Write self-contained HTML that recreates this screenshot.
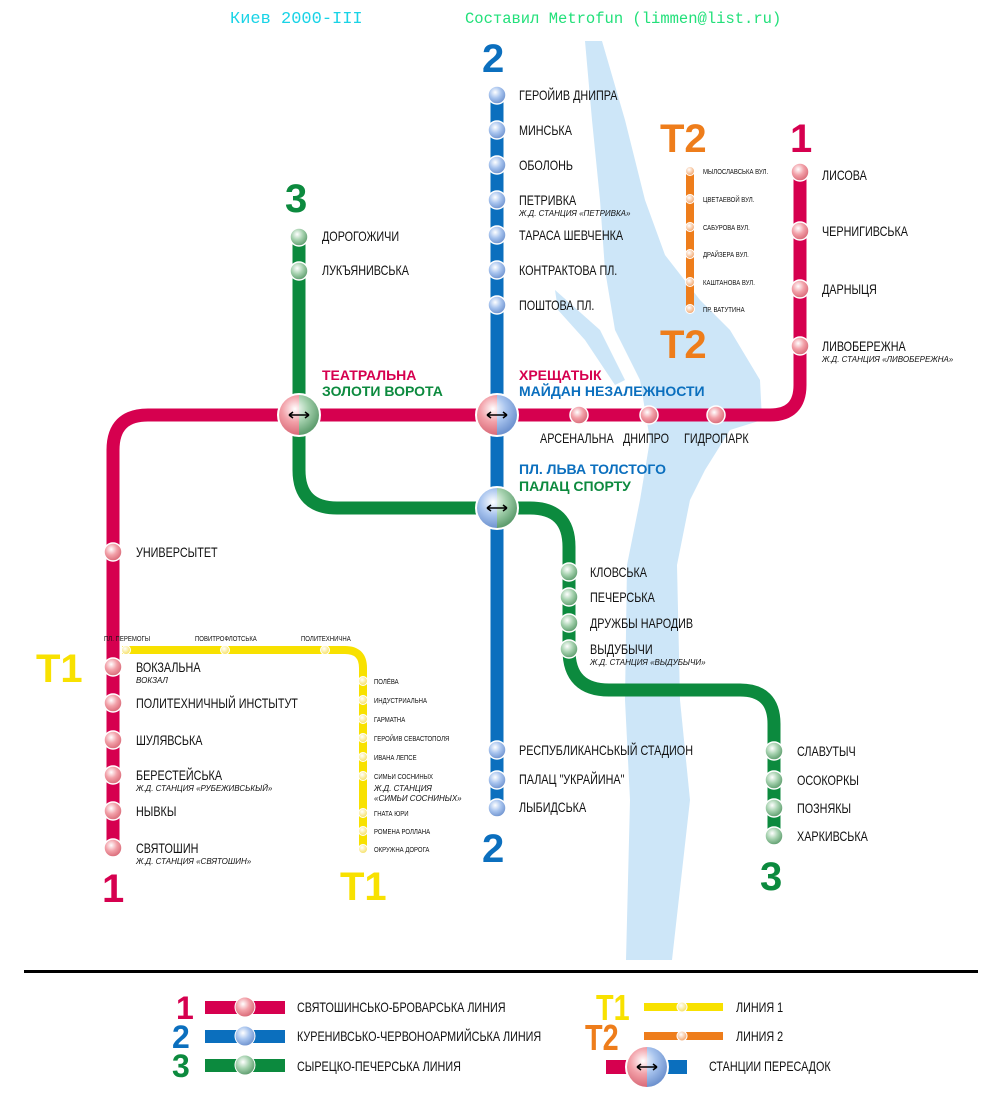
<!DOCTYPE html>
<html><head><meta charset="utf-8"><style>
html,body{margin:0;padding:0;background:#fff}
svg{display:block}
text{font-family:"Liberation Sans",sans-serif}
.st text,.sm text,.cz{transform-box:fill-box;transform-origin:0 0;transform:scaleX(0.8)}
.st{font-size:13.5px;fill:#111}
.sm{font-size:7.5px;fill:#111}
.it{font-size:8px;font-style:italic;fill:#111}
.big{font-weight:bold;font-size:40px}
.hd{font-weight:bold;font-size:14px}
</style></head><body>
<svg width="1000" height="1100" viewBox="0 0 1000 1100" xmlns="http://www.w3.org/2000/svg">
<defs>
<radialGradient id="gr" cx="40%" cy="35%" r="65%"><stop offset="0" stop-color="#fff"/><stop offset="0.5" stop-color="#f2a0a8"/><stop offset="1" stop-color="#d96a78"/></radialGradient>
<radialGradient id="gb" cx="40%" cy="35%" r="65%"><stop offset="0" stop-color="#fff"/><stop offset="0.5" stop-color="#a8c4ee"/><stop offset="1" stop-color="#6f93cf"/></radialGradient>
<radialGradient id="gg" cx="40%" cy="35%" r="65%"><stop offset="0" stop-color="#fff"/><stop offset="0.5" stop-color="#a5d1ae"/><stop offset="1" stop-color="#5e9d6e"/></radialGradient>
<radialGradient id="gy" cx="40%" cy="35%" r="65%"><stop offset="0" stop-color="#fff"/><stop offset="1" stop-color="#f6e060"/></radialGradient>
<radialGradient id="go" cx="40%" cy="35%" r="65%"><stop offset="0" stop-color="#fff"/><stop offset="1" stop-color="#f3a56a"/></radialGradient>
<clipPath id="cl"><rect x="-30" y="-30" width="30" height="60"/></clipPath>
<clipPath id="cr"><rect x="0" y="-30" width="30" height="60"/></clipPath>
<g id="ixrb"><circle r="22" fill="#fff"/><circle r="20" fill="url(#gr)" clip-path="url(#cl)"/><circle r="20" fill="url(#gb)" clip-path="url(#cr)"/><path d="M-10 0H10M-10 0l4-3M-10 0l4 3M10 0l-4-3M10 0l-4 3" stroke="#000" stroke-width="1.5" fill="none"/></g>
<g id="ixrg"><circle r="22" fill="#fff"/><circle r="20" fill="url(#gr)" clip-path="url(#cl)"/><circle r="20" fill="url(#gg)" clip-path="url(#cr)"/><path d="M-10 0H10M-10 0l4-3M-10 0l4 3M10 0l-4-3M10 0l-4 3" stroke="#000" stroke-width="1.5" fill="none"/></g>
<g id="ixbg"><circle r="22" fill="#fff"/><circle r="20" fill="url(#gb)" clip-path="url(#cl)"/><circle r="20" fill="url(#gg)" clip-path="url(#cr)"/><path d="M-10 0H10M-10 0l4-3M-10 0l4 3M10 0l-4-3M10 0l-4 3" stroke="#000" stroke-width="1.5" fill="none"/></g>
</defs>
<text x="230" y="23" font-size="17" fill="#19d3e6" style="font-family:'Liberation Mono',monospace">Киев 2000-III</text>
<text x="465" y="23" font-size="15.5" fill="#22e07a" style="font-family:'Liberation Mono',monospace">Составил Metrofun (limmen@list.ru)</text>
<path d="M585 41 L602 41 L625 120 L645 200 L665 255 L700 300 L730 330 L760 380 L762 420 L730 430 L705 470 L690 500 L677 565 L680 700 L690 800 L672 960 L626 960 L630 800 L625 700 L627 565 L640 500 L650 440 L640 380 L615 330 L605 270 L600 200 L592 120 Z" fill="#cde6f8"/>
<path d="M555 290 L600 330 L625 380 L615 385 L585 340 L558 310Z" fill="#cde6f8"/>
<g fill="none" stroke-width="13">
<path d="M113 850 V450 Q113 415 148 415 H770 Q800 415 800 385 V172" stroke="#d6004f"/>
<path d="M497 95 V808" stroke="#0b6fbe"/>
<path d="M299 237 V470 Q299 508 337 508 H530 Q569 508 569 547 V650 Q569 690 609 690 H740 Q774 690 774 724 V836" stroke="#0c8a3e"/>
</g>
<path d="M122 650 H345 Q363 650 363 668 V850" fill="none" stroke="#f8e100" stroke-width="8"/>
<path d="M690 170 V308" fill="none" stroke="#ee7d1b" stroke-width="8"/>
<g stroke="#fff" stroke-width="1.5">
<g fill="url(#gr)">
<circle cx="113" cy="552" r="9"/><circle cx="113" cy="667" r="9"/><circle cx="113" cy="703" r="9"/><circle cx="113" cy="740" r="9"/><circle cx="113" cy="775" r="9"/><circle cx="113" cy="811" r="9"/><circle cx="113" cy="848" r="9"/>
<circle cx="800" cy="172" r="9"/><circle cx="800" cy="231" r="9"/><circle cx="800" cy="289" r="9"/><circle cx="800" cy="346" r="9"/>
<circle cx="579" cy="415" r="9"/><circle cx="649" cy="415" r="9"/><circle cx="716" cy="415" r="9"/>
</g>
<g fill="url(#gb)">
<circle cx="497" cy="95" r="9"/><circle cx="497" cy="130" r="9"/><circle cx="497" cy="165" r="9"/><circle cx="497" cy="200" r="9"/><circle cx="497" cy="235" r="9"/><circle cx="497" cy="270" r="9"/><circle cx="497" cy="305" r="9"/>
<circle cx="497" cy="750" r="9"/><circle cx="497" cy="780" r="9"/><circle cx="497" cy="808" r="9"/>
</g>
<g fill="url(#gg)">
<circle cx="299" cy="237" r="9"/><circle cx="299" cy="271" r="9"/>
<circle cx="569" cy="572" r="9"/><circle cx="569" cy="597" r="9"/><circle cx="569" cy="623" r="9"/><circle cx="569" cy="649" r="9"/>
<circle cx="774" cy="751" r="9"/><circle cx="774" cy="780" r="9"/><circle cx="774" cy="808" r="9"/><circle cx="774" cy="836" r="9"/>
</g>
<g fill="url(#gy)" stroke-width="1">
<circle cx="126" cy="650" r="4.5"/><circle cx="225" cy="650" r="4.5"/><circle cx="325" cy="650" r="4.5"/>
<circle cx="363" cy="681" r="4.5"/><circle cx="363" cy="700" r="4.5"/><circle cx="363" cy="719" r="4.5"/><circle cx="363" cy="738" r="4.5"/><circle cx="363" cy="757" r="4.5"/><circle cx="363" cy="776" r="4.5"/><circle cx="363" cy="813" r="4.5"/><circle cx="363" cy="831" r="4.5"/><circle cx="363" cy="849" r="4.5"/>
</g>
<g fill="url(#go)" stroke-width="1">
<circle cx="690" cy="171" r="4.5"/><circle cx="690" cy="199" r="4.5"/><circle cx="690" cy="227" r="4.5"/><circle cx="690" cy="254" r="4.5"/><circle cx="690" cy="282" r="4.5"/><circle cx="690" cy="309" r="4.5"/>
</g>
</g>
<use href="#ixrg" x="299" y="415"/>
<use href="#ixrb" x="497" y="415"/>
<use href="#ixbg" x="497" y="508"/>
<text class="big" x="482" y="72" fill="#0b6fbe">2</text>
<text class="big" x="482" y="862" fill="#0b6fbe">2</text>
<text class="big" x="285" y="212" fill="#0c8a3e">3</text>
<text class="big" x="760" y="890" fill="#0c8a3e">3</text>
<text class="big" x="790" y="152" fill="#d6004f">1</text>
<text class="big" x="102" y="902" fill="#d6004f">1</text>
<text class="big" x="660" y="152" fill="#ee7d1b">T2</text>
<text class="big" x="660" y="358" fill="#ee7d1b">T2</text>
<text class="big" x="36" y="682" fill="#f8e100">T1</text>
<text class="big" x="340" y="900" fill="#f8e100">T1</text>
<g class="st">
<text x="519" y="100">ГЕРОЙИВ ДНИПРА</text>
<text x="519" y="135">МИНСЬКА</text>
<text x="519" y="170">ОБОЛОНЬ</text>
<text x="519" y="205">ПЕТРИВКА</text>
<text x="519" y="240">ТАРАСА ШЕВЧЕНКА</text>
<text x="519" y="275">КОНТРАКТОВА ПЛ.</text>
<text x="519" y="310">ПОШТОВА ПЛ.</text>
<text x="519" y="755">РЕСПУБЛИКАНСЬКЫЙ СТАДИОН</text>
<text x="519" y="784">ПАЛАЦ "УКРАЙИНА"</text>
<text x="519" y="812">ЛЫБИДСЬКА</text>
<text x="322" y="241">ДОРОГОЖИЧИ</text>
<text x="322" y="275">ЛУКЪЯНИВСЬКА</text>
<text x="590" y="577">КЛОВСЬКА</text>
<text x="590" y="602">ПЕЧЕРСЬКА</text>
<text x="590" y="628">ДРУЖБЫ НАРОДИВ</text>
<text x="590" y="654">ВЫДУБЫЧИ</text>
<text x="797" y="756">СЛАВУТЫЧ</text>
<text x="797" y="785">ОСОКОРКЫ</text>
<text x="797" y="813">ПОЗНЯКЫ</text>
<text x="797" y="841">ХАРКИВСЬКА</text>
<text x="822" y="180">ЛИСОВА</text>
<text x="822" y="236">ЧЕРНИГИВСЬКА</text>
<text x="822" y="294">ДАРНЫЦЯ</text>
<text x="822" y="351">ЛИВОБЕРЕЖНА</text>
<text x="540" y="443">АРСЕНАЛЬНА</text>
<text x="623" y="443">ДНИПРО</text>
<text x="684" y="443">ГИДРОПАРК</text>
<text x="136" y="557">УНИВЕРСЫТЕТ</text>
<text x="136" y="672">ВОКЗАЛЬНА</text>
<text x="136" y="708">ПОЛИТЕХНИЧНЫЙ ИНСТЫТУТ</text>
<text x="136" y="745">ШУЛЯВСЬКА</text>
<text x="136" y="780">БЕРЕСТЕЙСЬКА</text>
<text x="136" y="816">НЫВКЫ</text>
<text x="136" y="853">СВЯТОШИН</text>
</g>
<g class="it">
<text x="519" y="216">Ж.Д. СТАНЦИЯ «ПЕТРИВКА»</text>
<text x="590" y="665">Ж.Д. СТАНЦИЯ «ВЫДУБЫЧИ»</text>
<text x="822" y="362">Ж.Д. СТАНЦИЯ «ЛИВОБЕРЕЖНА»</text>
<text x="136" y="683">ВОКЗАЛ</text>
<text x="136" y="791">Ж.Д. СТАНЦИЯ «РУБЕЖИВСЬКЫЙ»</text>
<text x="136" y="864">Ж.Д. СТАНЦИЯ «СВЯТОШИН»</text>
<text x="374" y="791">Ж.Д. СТАНЦИЯ</text>
<text x="374" y="801">«СИМЬИ СОСНИНЫХ»</text>
</g>
<g class="sm">
<text x="104" y="641">ПЛ. ПЕРЕМОГЫ</text>
<text x="195" y="641">ПОВИТРОФЛОТСЬКА</text>
<text x="301" y="641">ПОЛИТЕХНИЧНА</text>
<text x="374" y="684">ПОЛЁВА</text>
<text x="374" y="703">ИНДУСТРИАЛЬНА</text>
<text x="374" y="722">ГАРМАТНА</text>
<text x="374" y="741">ГЕРОЙИВ СЕВАСТОПОЛЯ</text>
<text x="374" y="760">ИВАНА ЛЕПСЕ</text>
<text x="374" y="779">СИМЬИ СОСНИНЫХ</text>
<text x="374" y="816">ГНАТА ЮРИ</text>
<text x="374" y="834">РОМЕНА РОЛЛАНА</text>
<text x="374" y="852">ОКРУЖНА ДОРОГА</text>
<text x="703" y="174">МЫЛОСЛАВСЬКА ВУЛ.</text>
<text x="703" y="202">ЦВЕТАЕВОЙ ВУЛ.</text>
<text x="703" y="230">САБУРОВА ВУЛ.</text>
<text x="703" y="257">ДРАЙЗЕРА ВУЛ.</text>
<text x="703" y="285">КАШТАНОВА ВУЛ.</text>
<text x="703" y="312">ПР. ВАТУТИНА</text>
</g>
<g class="hd">
<text x="322" y="380" fill="#d6004f">ТЕАТРАЛЬНА</text>
<text x="322" y="396" fill="#0c8a3e">ЗОЛОТИ ВОРОТА</text>
<text x="519" y="380" fill="#d6004f">ХРЕЩАТЫК</text>
<text x="519" y="396" fill="#0b6fbe">МАЙДАН НЕЗАЛЕЖНОСТИ</text>
<text x="519" y="474" fill="#0b6fbe">ПЛ. ЛЬВА ТОЛСТОГО</text>
<text x="519" y="491" fill="#0c8a3e">ПАЛАЦ СПОРТУ</text>
</g>
<rect x="24" y="970" width="954" height="3" fill="#000"/>
<text x="176" y="1019" font-weight="bold" font-size="32" fill="#d6004f">1</text>
<text x="172" y="1048" font-weight="bold" font-size="32" fill="#0b6fbe">2</text>
<text x="172" y="1077" font-weight="bold" font-size="32" fill="#0c8a3e">3</text>
<rect x="205" y="1001" width="80" height="13" fill="#d6004f"/>
<rect x="205" y="1030" width="80" height="13" fill="#0b6fbe"/>
<rect x="205" y="1059" width="80" height="13" fill="#0c8a3e"/>
<circle cx="245" cy="1007" r="10" fill="url(#gr)" stroke="#fff"/>
<circle cx="245" cy="1036" r="10" fill="url(#gb)" stroke="#fff"/>
<circle cx="245" cy="1065" r="10" fill="url(#gg)" stroke="#fff"/>
<g class="st">
<text x="297" y="1012">СВЯТОШИНСЬКО-БРОВАРСЬКА ЛИНИЯ</text>
<text x="297" y="1041">КУРЕНИВСЬКО-ЧЕРВОНОАРМИЙСЬКА ЛИНИЯ</text>
<text x="297" y="1071">СЫРЕЦКО-ПЕЧЕРСЬКА ЛИНИЯ</text>
<text x="736" y="1012">ЛИНИЯ 1</text>
<text x="736" y="1041">ЛИНИЯ 2</text>
<text x="709" y="1071">СТАНЦИИ ПЕРЕСАДОК</text>
</g>
<text class="cz" x="596" y="1020" font-weight="bold" font-size="36" fill="#f8e100">T1</text>
<text class="cz" x="585" y="1050" font-weight="bold" font-size="36" fill="#ee7d1b">T2</text>
<rect x="644" y="1003" width="79" height="8" fill="#f8e100"/>
<rect x="644" y="1032" width="79" height="8" fill="#ee7d1b"/>
<circle cx="682" cy="1007" r="5" fill="url(#gy)" stroke="#fff"/>
<circle cx="682" cy="1036" r="5" fill="url(#go)" stroke="#fff"/>
<rect x="606" y="1060" width="41" height="14" fill="#d6004f"/>
<rect x="647" y="1060" width="40" height="14" fill="#0b6fbe"/>
<use href="#ixrb" x="647" y="1067"/>
</svg>
</body></html>
